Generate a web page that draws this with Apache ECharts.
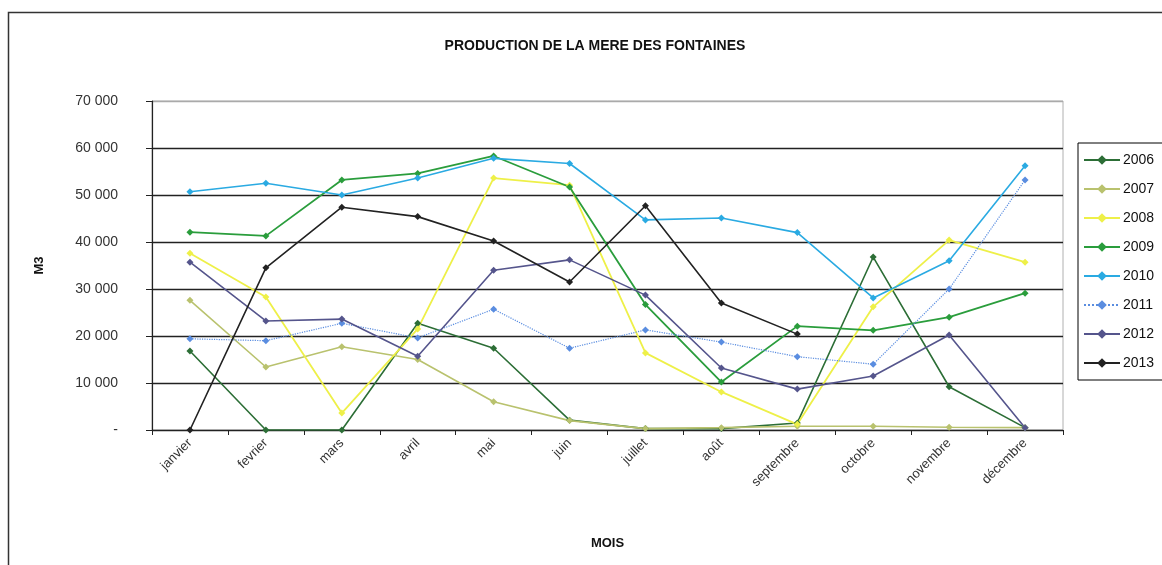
<!DOCTYPE html>
<html>
<head>
<meta charset="utf-8">
<script src="https://cdn.jsdelivr.net/npm/echarts@6/dist/echarts.min.js"></script>
<style>
html,body{margin:0;padding:0;background:#fff;}
#c{width:1162px;height:565px;}
</style>
</head>
<body>
<div id="c"></div>
<script>
var months = ['janvier','fevrier','mars','avril','mai','juin','juillet','août','septembre','octobre','novembre','décembre'];
var yTicks = [0, 10000, 20000, 30000, 40000, 50000, 60000, 70000];
var s2006 = [16800, 0, 0, 22700, 17400, 2100, 300, 300, 1500, 36800, 9200, 500];
var s2007 = [27600, 13400, 17700, 15000, 6000, 2000, 300, 500, 800, 800, 600, 500];
var s2008 = [37600, 28300, 3600, 21500, 53600, 52100, 16400, 8100, 1200, 26200, 40400, 35700];
var s2009 = [42100, 41300, 53200, 54600, 58300, 51700, 26700, 10200, 22100, 21200, 24000, 29100];
var s2010 = [50700, 52500, 50000, 53600, 57800, 56700, 44700, 45100, 42000, 28100, 36000, 56200];
var s2011 = [19400, 19000, 22700, 19600, 25700, 17400, 21300, 18700, 15600, 14000, 30000, 53200];
var s2012 = [35700, 23200, 23600, 15700, 34000, 36200, 28700, 13200, 8700, 11500, 20200, 500];
var s2013 = [0, 34500, 47400, 45400, 40200, 31500, 47700, 27000, 20400, null, null, null];
var years = ['2006','2007','2008','2009','2010','2011','2012','2013'];
var seriesData = [s2006, s2007, s2008, s2009, s2010, s2011, s2012, s2013];
var colors = ['#2c6e36', '#b9c26e', '#eef048', '#2a9d3c', '#2aaae2', '#5a8de0', '#55558c', '#222222'];
var lineTypes = ['solid','solid','solid','solid','solid','dotted','solid','solid'];
var lineWidths = [1.6, 1.6, 1.8, 1.8, 1.6, 1.2, 1.6, 1.6];

function fmt(v){
  if (v === 0) return '-';
  var s = String(v);
  return s.slice(0, s.length - 3) + ' ' + s.slice(s.length - 3);
}

var chart = echarts.init(document.getElementById('c'), null, {renderer:'canvas'});
var series = years.map(function(y, i){
  return {
    name: y,
    type: 'line',
    data: seriesData[i],
    symbol: 'diamond',
    symbolSize: 7,
    color: colors[i],
    lineStyle: {color: colors[i], width: lineWidths[i], type: lineTypes[i]},
    itemStyle: {color: colors[i]},
    connectNulls: false
  };
});

chart.setOption({
  animation: false,
  backgroundColor: '#fff',
  textStyle: {fontFamily: 'Liberation Sans, Arial, sans-serif'},
  title: {
    text: 'PRODUCTION DE LA MERE DES FONTAINES',
    left: 590, top: 34, textAlign: 'center',
    textStyle: {fontSize: 14, fontWeight: 'bold', color: '#111', fontFamily: 'Liberation Sans, Arial, sans-serif'}
  },
  graphic: [{
    type: 'rect', z: -10,
    shape: {x: 8.5, y: 12.5, width: 1250, height: 650},
    style: {fill: 'none', stroke: '#333', lineWidth: 1.5}
  }],
  legend: {
    orient: 'vertical',
    left: 1078, top: 143,
    itemWidth: 36, itemHeight: 12,
    itemGap: 15,
    padding: [10, 20, 10, 5],
    borderColor: '#000', borderWidth: 1,
    backgroundColor: '#fff',
    textStyle: {fontSize: 14, color: '#111', padding: [0,0,0,-2]},
    data: years
  },
  grid: {left: 152, right: 99, top: 101, bottom: 135, show: true, borderColor: '#b0b0b0', borderWidth: 1},
  xAxis: {
    type: 'category',
    data: months,
    boundaryGap: true,
    name: 'MOIS',
    nameLocation: 'middle',
    nameGap: 107,
    nameTextStyle: {fontSize: 13, fontWeight: 'bold', color: '#111'},
    axisLine: {lineStyle: {color: '#222', width: 1.2}},
    axisTick: {show: true, length: 5, lineStyle: {color: '#222'}},
    axisLabel: {rotate: 45, fontSize: 13, color: '#333', margin: 11, interval: 0}
  },
  yAxis: {
    type: 'value',
    min: 0, max: 70000, interval: 10000,
    name: 'M3',
    nameLocation: 'middle',
    nameGap: 106,
    nameRotate: 90,
    nameTextStyle: {fontSize: 13, fontWeight: 'bold', color: '#111'},
    axisLine: {show: true, lineStyle: {color: '#222', width: 1.2}},
    axisTick: {show: true, length: 6, lineStyle: {color: '#222'}},
    axisLabel: {fontSize: 14, color: '#333', margin: 34, formatter: function(v){ return fmt(v); }},
    splitLine: {show: true, lineStyle: {color: ['#222','#222','#222','#222','#222','#222','#222','#aaaaaa'], width: 1.3}}
  },
  series: series
});
</script>
</body>
</html>
